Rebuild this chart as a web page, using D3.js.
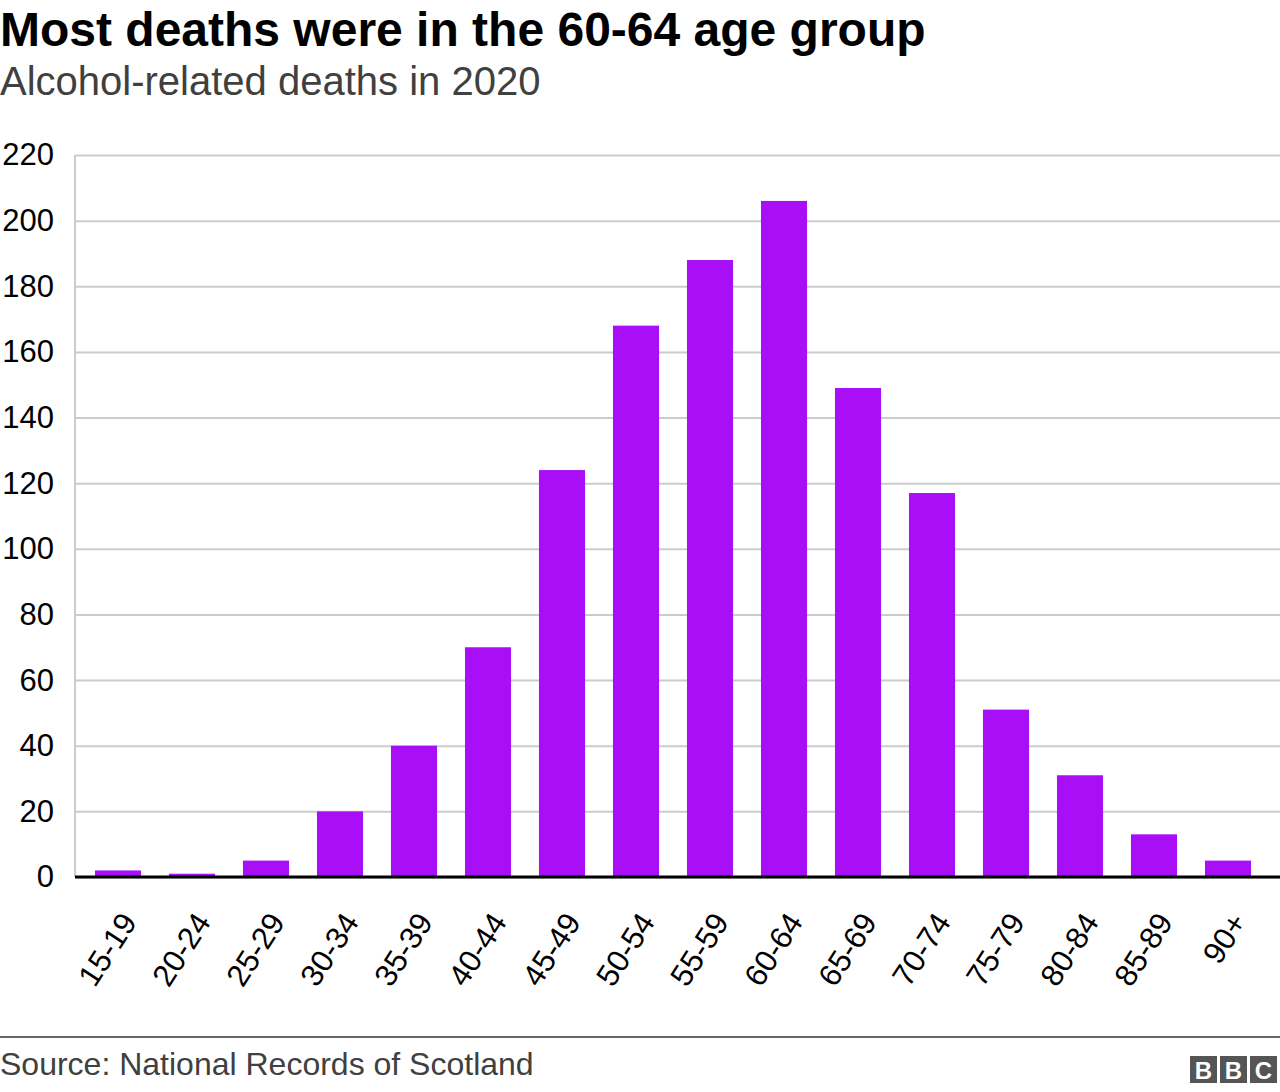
<!DOCTYPE html>
<html><head><meta charset="utf-8">
<script src="https://cdn.jsdelivr.net/npm/d3@7"></script>
<style>body{margin:0;background:#fff;font-family:"Liberation Sans",Arial,sans-serif}</style>
</head><body><svg id="c" width="1280" height="1092"></svg>
<script>
const categories = ["15-19","20-24","25-29","30-34","35-39","40-44","45-49","50-54","55-59","60-64","65-69","70-74","75-79","80-84","85-89","90+"];
const deaths = [2,1,5,20,40,70,124,168,188,206,149,117,51,31,13,5];
const yTicks = [0,20,40,60,80,100,120,140,160,180,200,220];

const svg = d3.select("#c");
const x = d3.scaleBand().domain(categories).range([81,1265]).paddingInner(0.378).paddingOuter(0.189);
const y = d3.scaleLinear().domain([0,220]).range([877,155]);

svg.append("text").attr("x",0).attr("y",46).attr("font-size",48).attr("font-weight","bold").attr("fill","#000")
  .text("Most deaths were in the 60-64 age group");
svg.append("text").attr("x",0).attr("y",95).attr("font-size",40).attr("fill","#404040")
  .text("Alcohol-related deaths in 2020");

const ya = svg.append("g").attr("transform","translate(75,0)")
  .call(d3.axisLeft(y).tickValues(yTicks).tickSize(-1205).tickPadding(21));
ya.select(".domain").remove();
ya.selectAll(".tick line").attr("stroke","#cccccc").attr("stroke-width",2);
ya.selectAll(".tick text").attr("font-size",31).attr("fill","#000").attr("font-family","Liberation Sans, Arial, sans-serif");
svg.append("line").attr("x1",75).attr("x2",75).attr("y1",155).attr("y2",877).attr("stroke","#cccccc").attr("stroke-width",2);

svg.append("g").selectAll("rect").data(categories).join("rect")
  .attr("x",d=>x(d)).attr("width",x.bandwidth())
  .attr("y",(d,i)=>y(deaths[i])).attr("height",(d,i)=>y(0)-y(deaths[i]))
  .attr("fill","#a90ff7");

const xa = svg.append("g").attr("transform","translate(0,877)")
  .call(d3.axisBottom(x).tickSize(0).tickPadding(0));
xa.select(".domain").remove();
svg.append("line").attr("x1",75).attr("x2",1280).attr("y1",877).attr("y2",877).attr("stroke","#000").attr("stroke-width",3);
xa.selectAll(".tick text").attr("font-size",31).attr("fill","#000").attr("font-family","Liberation Sans, Arial, sans-serif")
  .attr("text-anchor","end").attr("dy",null).attr("y",0)
  .attr("transform","translate(20,45) rotate(-57)");

svg.append("line").attr("x1",0).attr("x2",1280).attr("y1",1037).attr("y2",1037).attr("stroke","#666").attr("stroke-width",2);
svg.append("text").attr("x",0).attr("y",1075).attr("font-size",32).attr("fill","#404040").text("Source: National Records of Scotland");

const logo = svg.append("g").attr("transform","translate(1190,1056)");
["B","B","C"].forEach((ch,i)=>{
  logo.append("rect").attr("x",i*30).attr("y",0).attr("width",27).attr("height",27).attr("fill","#555");
  logo.append("text").attr("x",i*30+13.5).attr("y",23).attr("text-anchor","middle").attr("font-size",24).attr("font-weight","bold").attr("fill","#fff").text(ch);
});
</script></body></html>
